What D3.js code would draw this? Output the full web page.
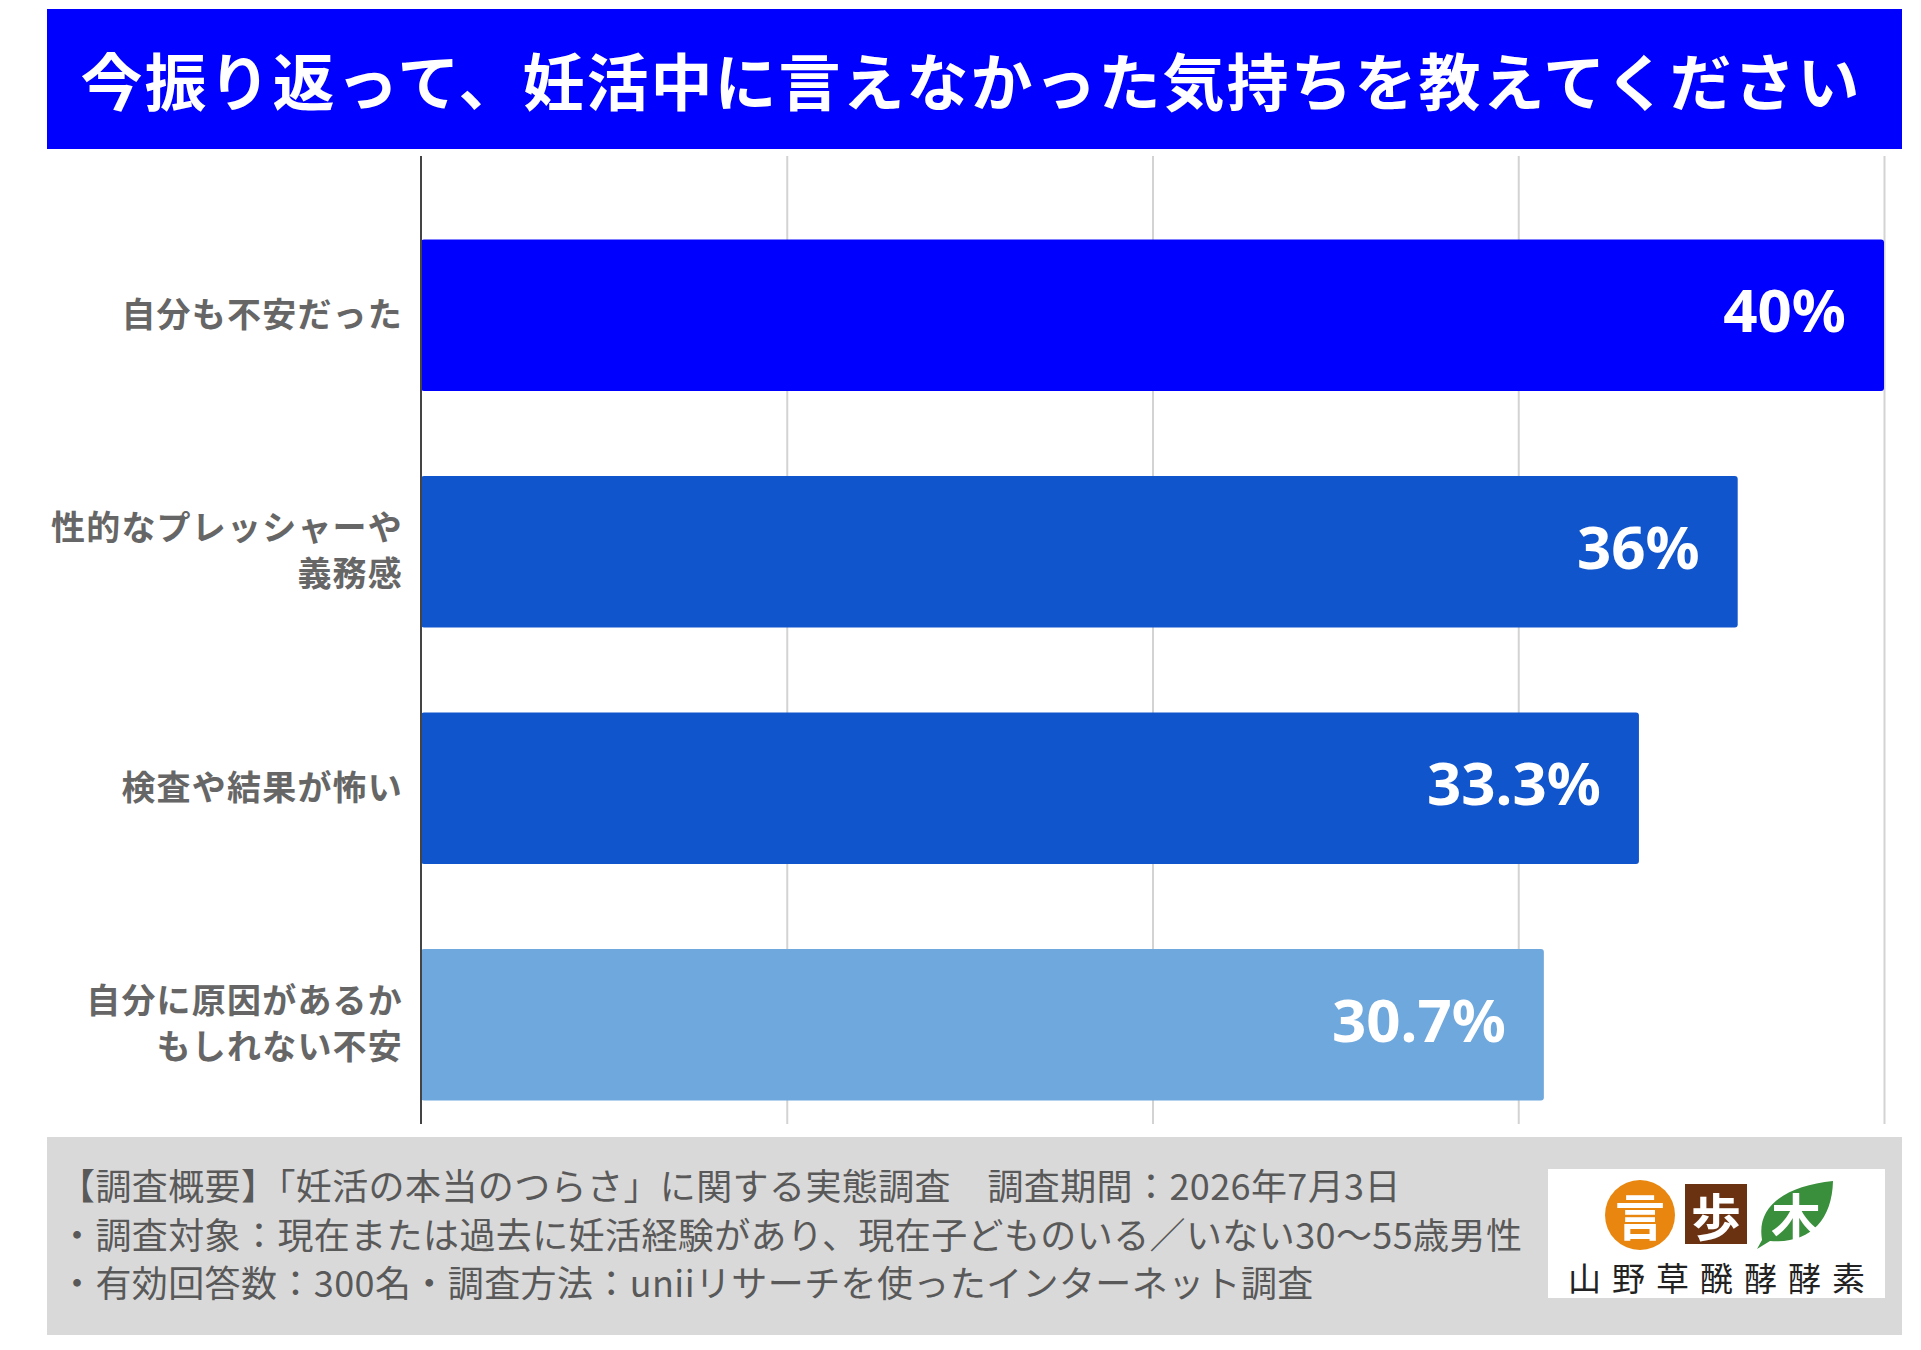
<!DOCTYPE html>
<html lang="ja">
<head>
<meta charset="utf-8">
<script src="https://cdn.jsdelivr.net/npm/d3@7/dist/d3.min.js"></script>
<style>
  html, body { margin: 0; padding: 0; background: #ffffff; }
  svg { display: block; }
</style>
</head>
<body>
<svg id="chart" width="1921" height="1350"></svg>
<script>
// ---- data ----
const titleText = "今振り返って、妊活中に言えなかった気持ちを教えてください";
const categories = [
  ["自分も不安だった"],
  ["性的なプレッシャーや", "義務感"],
  ["検査や結果が怖い"],
  ["自分に原因があるか", "もしれない不安"]
];
const values = [40, 36, 33.3, 30.7];
const valueLabels = ["40%", "36%", "33.3%", "30.7%"];
const gridTicks = [10, 20, 30, 40];
const footerLines = [
  "【調査概要】「妊活の本当のつらさ」に関する実態調査　調査期間：2026年7月3日",
  "・調査対象：現在または過去に妊活経験があり、現在子どものいる／いない30〜55歳男性",
  "・有効回答数：300名・調査方法：uniiリサーチを使ったインターネット調査"
];
const logoGlyphs = ["言", "歩", "木"];
const logoText = "山野草醗酵酵素";

// ---- styles ----
const barColors = ["#0000ff", "#1155cc", "#1155cc", "#6fa8dc"];
const JP = "'Noto Sans CJK JP', 'Noto Sans', sans-serif";

const svg = d3.select("#chart");

// title banner
svg.append("rect").attr("x", 47).attr("y", 9).attr("width", 1855).attr("height", 140).attr("fill", "#0000ff");
svg.append("text")
  .attr("x", 971).attr("y", 79)
  .attr("text-anchor", "middle").attr("dominant-baseline", "central")
  .attr("fill", "#ffffff")
  .style("font-family", JP).style("font-weight", 700).style("font-size", "62px")
  .style("letter-spacing", "2px")
  .text(titleText);

// scales
const x = d3.scaleLinear().domain([0, 40]).range([421, 1884]);
const y = d3.scaleBand().domain(d3.range(categories.length)).range([197, 1143]).paddingInner(0.36).paddingOuter(0.18);
const gridTop = 156, gridBottom = 1124;

// gridlines
const grid = svg.append("g").attr("transform", `translate(0,${gridBottom})`)
  .call(d3.axisBottom(x).tickValues(gridTicks).tickSize(-(gridBottom - gridTop)).tickFormat(""));
grid.select(".domain").remove();
grid.selectAll(".tick line").attr("stroke", "#d3d3d3").attr("stroke-width", 2);

// bars
svg.append("g").selectAll("rect").data(values).join("rect")
  .attr("x", x(0))
  .attr("y", (d, i) => y(i))
  .attr("width", d => x(d) - x(0))
  .attr("height", y.bandwidth())
  .attr("rx", 3)
  .attr("fill", (d, i) => barColors[i]);

// axis line
svg.append("line").attr("x1", x(0)).attr("x2", x(0)).attr("y1", gridTop).attr("y2", gridBottom)
  .attr("stroke", "#444444").attr("stroke-width", 2);

// value labels
svg.append("g").selectAll("text").data(values).join("text")
  .attr("x", d => x(d) - 38)
  .attr("y", (d, i) => y(i) + y.bandwidth() / 2 + 17)
  .attr("text-anchor", "end")
  .attr("fill", "#ffffff")
  .style("font-family", "'Noto Sans', sans-serif").style("font-weight", 700).style("font-size", "60px")
  .text((d, i) => valueLabels[i]);

// category labels
const catG = svg.append("g");
categories.forEach((lines, i) => {
  const cy = y(i) + y.bandwidth() / 2 - 3;
  const t = catG.append("text")
    .attr("text-anchor", "end")
    .attr("fill", "#666666")
    .style("font-family", JP).style("font-weight", 700).style("font-size", "34px")
    .style("letter-spacing", "1.2px");
  lines.forEach((ln, j) => {
    t.append("tspan")
      .attr("x", 403)
      .attr("y", cy + (j - (lines.length - 1) / 2) * 46)
      .attr("dominant-baseline", "central")
      .text(ln);
  });
});

// footer
svg.append("rect").attr("x", 47).attr("y", 1137).attr("width", 1855).attr("height", 198).attr("fill", "#d9d9d9");
svg.append("g").selectAll("text").data(footerLines).join("text")
  .attr("x", 59)
  .attr("y", (d, i) => 1184 + i * 48.5)
  .attr("dominant-baseline", "central")
  .attr("fill", "#595959")
  .style("font-family", JP).style("font-weight", 400).style("font-size", "36px")
  .style("letter-spacing", "0.4px")
  .text(d => d);

// logo
const logo = svg.append("g");
logo.append("rect").attr("x", 1548).attr("y", 1169).attr("width", 337).attr("height", 129).attr("fill", "#ffffff");
logo.append("circle").attr("cx", 1640).attr("cy", 1215).attr("r", 35).attr("fill", "#e8860f");
logo.append("rect").attr("x", 1685).attr("y", 1184).attr("width", 62).attr("height", 60).attr("fill", "#6b3212");
logo.append("path")
  .attr("d", "M1762,1240 C1756,1204 1788,1186 1833,1181 C1832,1222 1808,1244 1770,1241 L1757,1249 Z")
  .attr("fill", "#3a8f3c");
const glyphX = [1640, 1716, 1796];
logo.selectAll("text.g").data(logoGlyphs).join("text")
  .attr("class", "g")
  .attr("x", (d, i) => glyphX[i]).attr("y", 1214)
  .attr("text-anchor", "middle").attr("dominant-baseline", "central")
  .attr("fill", "#ffffff")
  .style("font-family", JP).style("font-weight", 700).style("font-size", "50px")
  .text(d => d);
logo.append("text")
  .attr("x", 1722).attr("y", 1277)
  .attr("text-anchor", "middle").attr("dominant-baseline", "central")
  .attr("fill", "#222222")
  .style("font-family", JP).style("font-weight", 400).style("font-size", "33px")
  .style("letter-spacing", "11px")
  .text(logoText);
</script>
</body>
</html>
